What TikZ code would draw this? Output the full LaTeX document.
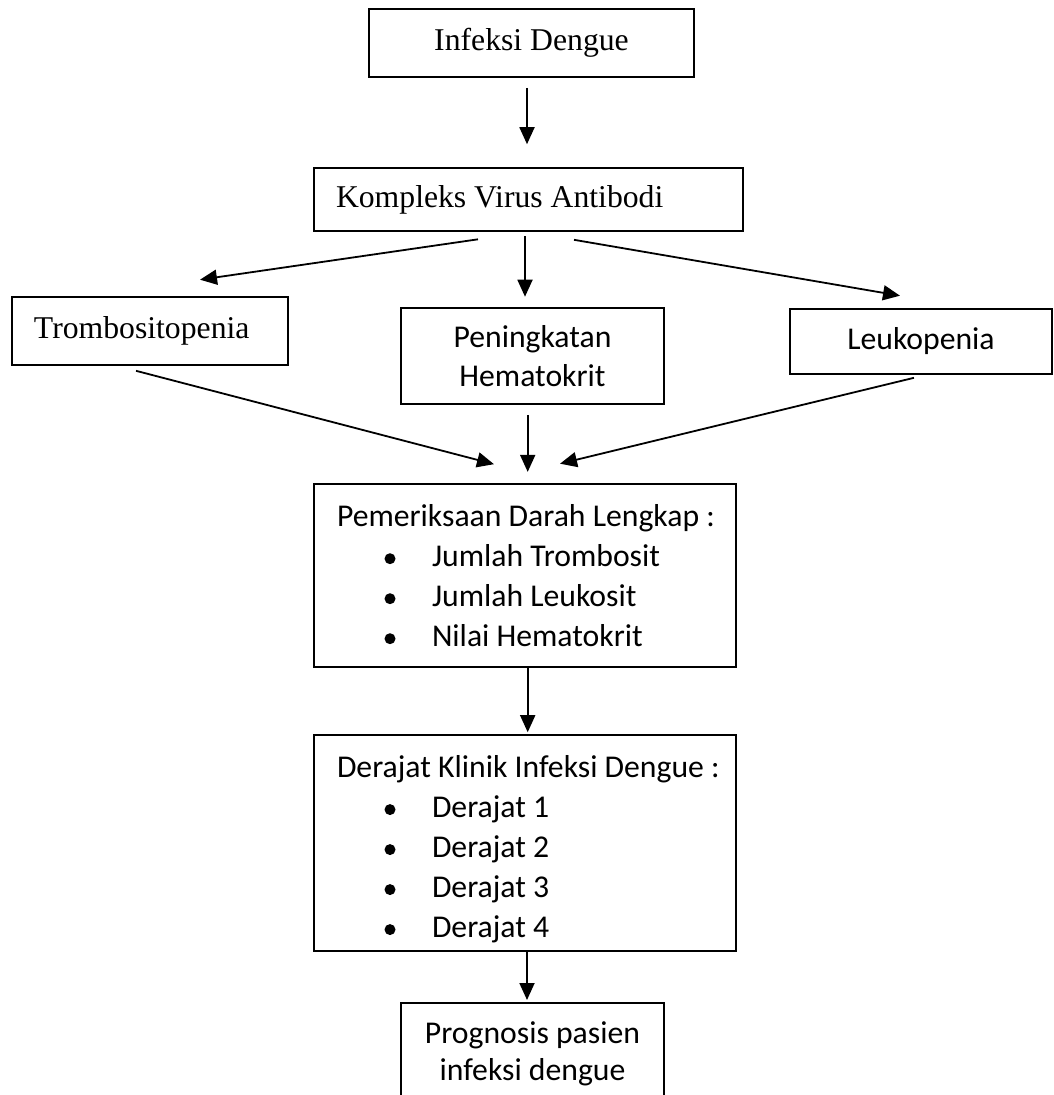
\documentclass[tikz,border=0pt]{standalone}
\usepackage{fontspec}
\setmainfont{Carlito}
\newfontfamily\timesfont{Liberation Serif}
\usetikzlibrary{arrows.meta}
\newcommand{\itm}[1]{\hspace*{65pt}\makebox[0pt]{\tikz[baseline=-7.7pt]\fill (0,0) circle (5.5pt);}\hspace*{42pt}#1}

\begin{document}
\begin{tikzpicture}[
        x=1pt, y=-1pt,
        box/.style={rectangle, draw=black, line width=1.6pt, inner sep=0pt, align=center},
        lbox/.style={box, align=flush left, inner xsep=22pt},
        serif/.style={font=\timesfont\fontsize{31.7}{38}\selectfont},
        calib/.style={font=\fontsize{31.7}{40}\selectfont},
        arr/.style={-{Triangle[length=17pt,width=15pt]}, line width=1.8pt}
    ]
        \useasboundingbox (0,0) rectangle (1053,1095);
        \clip (0,0) rectangle (1053,1095);

        % Nodes
        \node (infeksi) at (531.5,43) [box, serif, minimum width=325pt, minimum height=68pt] {Infeksi Dengue};
        \node (kompleks) at (528.5,199.5) [lbox, serif, text width=385pt, minimum width=429pt, minimum height=63pt] {Kompleks Virus Antibodi};
        \node (tromb) at (150,331) [lbox, serif, text width=232pt, minimum width=276pt, minimum height=68pt] {Trombositopenia};
        \node (pening) at (532.5,356) [box, calib, font=\fontsize{31.7}{39}\selectfont, minimum width=263pt, minimum height=96pt] {Peningkatan\\Hematokrit};
        \node (leuko) at (921,341.5) [box, calib, minimum width=262pt, minimum height=65pt] {Leukopenia};
        \node (pem) at (525,575.5) [lbox, calib, inner xsep=11pt, text width=400pt, minimum width=422pt, minimum height=183pt]
            {\hspace*{12pt}Pemeriksaan Darah Lengkap :\\ \itm{Jumlah Trombosit}\\ \itm{Jumlah Leukosit}\\ \itm{Nilai Hematokrit}};
        \node (derajat) at (525,843) [lbox, calib, inner xsep=11pt, text width=400pt, minimum width=422pt, minimum height=216pt]
            {\rule{0pt}{34pt}\hspace*{12pt}Derajat Klinik Infeksi Dengue :\\ \itm{Derajat 1}\\ \itm{Derajat 2}\\ \itm{Derajat 3}\\ \itm{Derajat 4}};
        \node (prog) at (532.5,1002) [box, anchor=north, font=\fontsize{31.7}{37}\selectfont, minimum width=263pt, minimum height=102pt] {Prognosis pasien\\infeksi dengue};

        % Arrows
        \draw[arr] ([shift={(-4.5,10)}]infeksi.south) -- ([shift={(-1.5,-23)}]kompleks.north);
        \draw[arr] ([shift={(-50.5,7.5)}]kompleks.south) -- ([shift={(50,-16.5)}]tromb.north);
        \draw[arr] ([shift={(-3.5,4.5)}]kompleks.south) -- ([shift={(-7.5,-10.5)}]pening.north);
        \draw[arr] ([shift={(45.5,8)}]kompleks.south) -- ([shift={(-21,-12.5)}]leuko.north);

        \draw[arr] ([shift={(-14,5)}]tromb.south) -- ([shift={(-31,-19)}]pem.north);
        \draw[arr] ([shift={(-4.8,10)}]pening.south) -- ([shift={(2.7,-11.3)}]pem.north);
        \draw[arr] ([shift={(-7,3)}]leuko.south) -- ([shift={(35,-19.5)}]pem.north);

        \draw[arr] ([shift={(2.7,0)}]pem.south) -- ([shift={(2.7,-2)}]derajat.north);
        \draw[arr] ([shift={(2,0)}]derajat.south) -- ([shift={(-5.5,-2)}]prog.north);

    \end{tikzpicture}
\end{document}
